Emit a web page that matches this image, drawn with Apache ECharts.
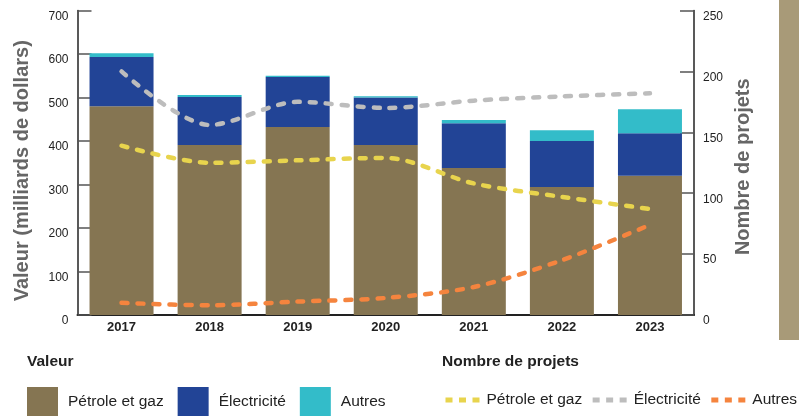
<!DOCTYPE html>
<html>
<head>
<meta charset="utf-8">
<script src="https://cdn.jsdelivr.net/npm/echarts@6/dist/echarts.min.js"></script>
<style>
  html, body { margin: 0; padding: 0; background: #fff; }
  #chart { width: 799px; height: 416px; }
</style>
</head>
<body>
<div id="chart"></div>
<script>
const years = ['2017', '2018', '2019', '2020', '2021', '2022', '2023']

// valeur (milliards de dollars)
const oilValue = [480, 391, 432, 391, 338, 294, 320]
const elecValue = [113, 110, 115, 109, 103, 106, 98]
const otherValue = [9, 5, 3, 3, 7, 25, 55]

// nombre de projets
const oilCount = [139, 125, 127, 129, 108, 97, 87]
const elecCount = [200, 156, 175, 170, 176, 179.5, 182]
const otherCount = [10, 8, 11, 14, 23, 45, 74]

const FONT = '"Liberation Sans", Arial, sans-serif'
const colors = { oil: '#857552', elec: '#224496', other: '#33bcc9' }
const lineColors = { oil: '#e8d44d', elec: '#bdbdbd', other: '#f5843e' }
const SUFFIX = ' (projets)'

const chart = echarts.init(document.getElementById('chart'))

function barSeries(name, data, color) {
  return {
    name: name,
    type: 'bar',
    stack: 'valeur',
    barWidth: 64,
    itemStyle: { color: color },
    data: data
  }
}

function lineSeries(name, data, color) {
  return {
    name: name + SUFFIX,
    type: 'line',
    yAxisIndex: 1,
    smooth: 0.3,
    symbol: 'none',
    z: 5,
    lineStyle: { color: color, width: 4.5, type: [6, 10], cap: 'round' },
    itemStyle: { color: color },
    data: data
  }
}

chart.setOption({
  animation: false,
  textStyle: { fontFamily: FONT },
  grid: { left: 77.5, right: 105, top: 10.5, bottom: 101 },
  graphic: [
    { type: 'rect', shape: { x: 779, y: 0, width: 20, height: 340 }, style: { fill: '#a89a78' } },
    { type: 'text', left: 27, top: 354, style: { text: 'Valeur', font: 'bold 15.5px ' + FONT, fill: '#222' } },
    { type: 'text', left: 442, top: 354, style: { text: 'Nombre de projets', font: 'bold 15.5px ' + FONT, fill: '#222' } }
  ],
  legend: [
    {
      left: 27, top: 387, padding: 0,
      icon: 'rect', itemWidth: 31, itemHeight: 29, itemGap: 14,
      textStyle: { fontFamily: FONT, fontSize: 15.5, color: '#222', padding: [0, 0, 0, 5] },
      data: ['Pétrole et gaz', 'Électricité', 'Autres']
    },
    {
      left: 443, top: 392, padding: 0, width: 360,
      itemWidth: 34, itemHeight: 10, itemGap: 8,
      itemStyle: { opacity: 0 },
      lineStyle: { type: [7, 6.5], width: 5, cap: 'butt' },
      textStyle: { fontFamily: FONT, fontSize: 15.5, color: '#222', padding: [0, 0, 0, 2] },
      formatter: function (name) { return name.replace(SUFFIX, '') },
      data: ['Pétrole et gaz' + SUFFIX, 'Électricité' + SUFFIX, 'Autres' + SUFFIX]
    }
  ],
  xAxis: {
    type: 'category',
    data: years,
    axisLine: { lineStyle: { color: '#222', width: 2 } },
    axisTick: { inside: true, length: 8, lineStyle: { color: '#333', width: 1.5 } },
    axisLabel: { fontFamily: FONT, fontSize: 13, fontWeight: 'bold', color: '#222', margin: 6 }
  },
  yAxis: [
    {
      type: 'value',
      min: 0, max: 700, interval: 100,
      name: 'Valeur (milliards de dollars)',
      nameLocation: 'middle',
      nameGap: 45,
      nameRotate: 90,
      nameTextStyle: { fontFamily: FONT, fontSize: 20, fontWeight: 'bold', color: '#666', padding: [0, 16, 0, 0] },
      axisLine: { show: true, lineStyle: { color: '#222', width: 1.5 } },
      axisTick: { show: true, inside: true, length: 14, lineStyle: { color: '#555', width: 1.5 } },
      axisLabel: { fontFamily: FONT, fontSize: 12, color: '#222', margin: 9, verticalAlign: 'top' },
      splitLine: { show: false }
    },
    {
      type: 'value',
      min: 0, max: 250, interval: 50,
      name: 'Nombre de projets',
      nameLocation: 'middle',
      nameGap: 28,
      nameRotate: 90,
      nameTextStyle: { fontFamily: FONT, fontSize: 20, fontWeight: 'bold', color: '#666', padding: [0, 8, 0, 0] },
      axisLine: { show: true, lineStyle: { color: '#222', width: 1.5 } },
      axisTick: { show: true, inside: true, length: 14, lineStyle: { color: '#555', width: 1.5 } },
      axisLabel: { fontFamily: FONT, fontSize: 12, color: '#222', margin: 9, verticalAlign: 'top' },
      splitLine: { show: false }
    }
  ],
  series: [
    barSeries('Pétrole et gaz', oilValue, colors.oil),
    barSeries('Électricité', elecValue, colors.elec),
    barSeries('Autres', otherValue, colors.other),
    lineSeries('Pétrole et gaz', oilCount, lineColors.oil),
    lineSeries('Électricité', elecCount, lineColors.elec),
    lineSeries('Autres', otherCount, lineColors.other)
  ]
})
</script>
</body>
</html>
